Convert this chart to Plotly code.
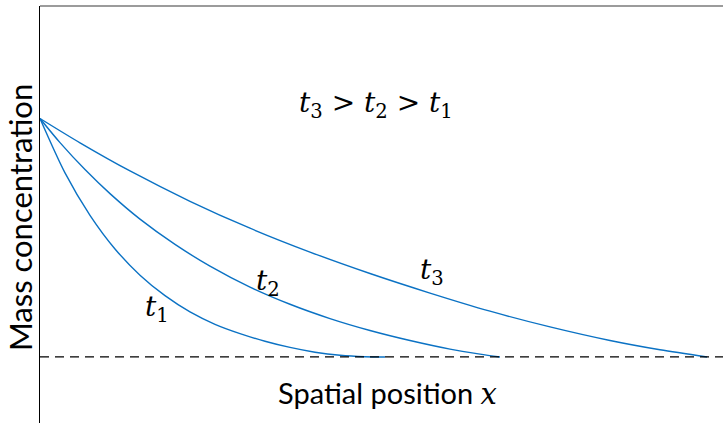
import plotly.graph_objects as go

# Normalised mass-concentration profiles c(x) at three times t1 < t2 < t3
x_t1 = [0.0, 0.25, 0.50, 0.75, 1.00, 1.25, 1.50, 1.75, 2.00, 2.25, 2.50, 2.75, 3.00, 3.25, 3.45]
c_t1 = [1.0, 0.772, 0.594, 0.453, 0.343, 0.257, 0.189, 0.137, 0.098, 0.066, 0.040, 0.020, 0.007, 0.001, 0.0]

x_t2 = [0.0, 0.20, 0.45, 0.70, 1.00, 1.35, 1.70, 2.10, 2.50, 2.90, 3.30, 3.70, 4.10, 4.40, 4.60]
c_t2 = [1.0, 0.899, 0.786, 0.685, 0.578, 0.472, 0.381, 0.293, 0.221, 0.161, 0.111, 0.069, 0.033, 0.012, 0.0]

x_t3 = [0.0, 0.40, 0.90, 1.50, 2.10, 2.70, 3.30, 3.90, 4.50, 5.10, 5.70, 6.20, 6.67]
c_t3 = [1.0, 0.898, 0.780, 0.653, 0.540, 0.440, 0.350, 0.268, 0.192, 0.126, 0.069, 0.030, 0.0]

curve_labels = ["1", "2", "3"]
label_x = [1.17, 2.28, 3.92]
label_c = [0.205, 0.312, 0.358]

X_RANGE = [0.0, 6.83]
C_RANGE = [-0.277, 1.472]

BLUE = "#0b72c4"
MATH_FONT = "DejaVu Serif"
TEXT_FONT = "Lato"

fig = go.Figure()
for xs, cs in [(x_t1, c_t1), (x_t2, c_t2), (x_t3, c_t3)]:
    fig.add_trace(go.Scatter(
        x=xs, y=cs, mode="lines",
        line=dict(color=BLUE, width=1.4, shape="spline", smoothing=0.8),
        hoverinfo="skip", showlegend=False,
    ))

# zero-concentration reference line
fig.add_shape(type="line", xref="paper", yref="y", x0=0, x1=1, y0=0, y1=0,
              line=dict(color="black", width=1.3, dash="9px,6px"))
# top frame line
fig.add_shape(type="line", xref="paper", yref="paper", x0=0, x1=1, y0=1, y1=1,
              line=dict(color="#7a7a7a", width=1.6))

for sub, lx, lc in zip(curve_labels, label_x, label_c):
    fig.add_annotation(x=lx, y=lc, xref="x", yref="y", showarrow=False,
                       text=f"<i>t</i><sub>{sub}</sub>",
                       font=dict(family=MATH_FONT, size=28, color="black"),
                       xanchor="center", yanchor="middle")

fig.add_annotation(x=3.36, y=1.057, xref="x", yref="y", showarrow=False,
                   text="<i>t</i><sub>3</sub> > <i>t</i><sub>2</sub> > <i>t</i><sub>1</sub>",
                   font=dict(family=MATH_FONT, size=28, color="black"),
                   xanchor="center", yanchor="middle")

fig.add_annotation(x=0.5095, y=0.072, xref="paper", yref="paper", showarrow=False,
                   text=f"Spatial position <span style=\"font-family:{MATH_FONT}\"><i>x</i></span>",
                   font=dict(family=TEXT_FONT, size=29, color="black"),
                   xanchor="center", yanchor="middle")

fig.add_annotation(x=-0.0293, y=0.494, xref="paper", yref="paper", showarrow=False,
                   text="Mass concentration", textangle=-90,
                   font=dict(family=TEXT_FONT, size=31, color="black"),
                   xanchor="center", yanchor="middle")

fig.update_xaxes(range=X_RANGE, visible=False, showgrid=False, zeroline=False)
fig.update_yaxes(range=C_RANGE, showgrid=False, zeroline=False, showticklabels=False,
                 ticks="", showline=True, linecolor="black", linewidth=1.2)

fig.update_layout(
    width=723, height=423,
    margin=dict(l=40, r=0, t=6, b=0),
    paper_bgcolor="white", plot_bgcolor="white",
)

fig.write_html("out.html")
